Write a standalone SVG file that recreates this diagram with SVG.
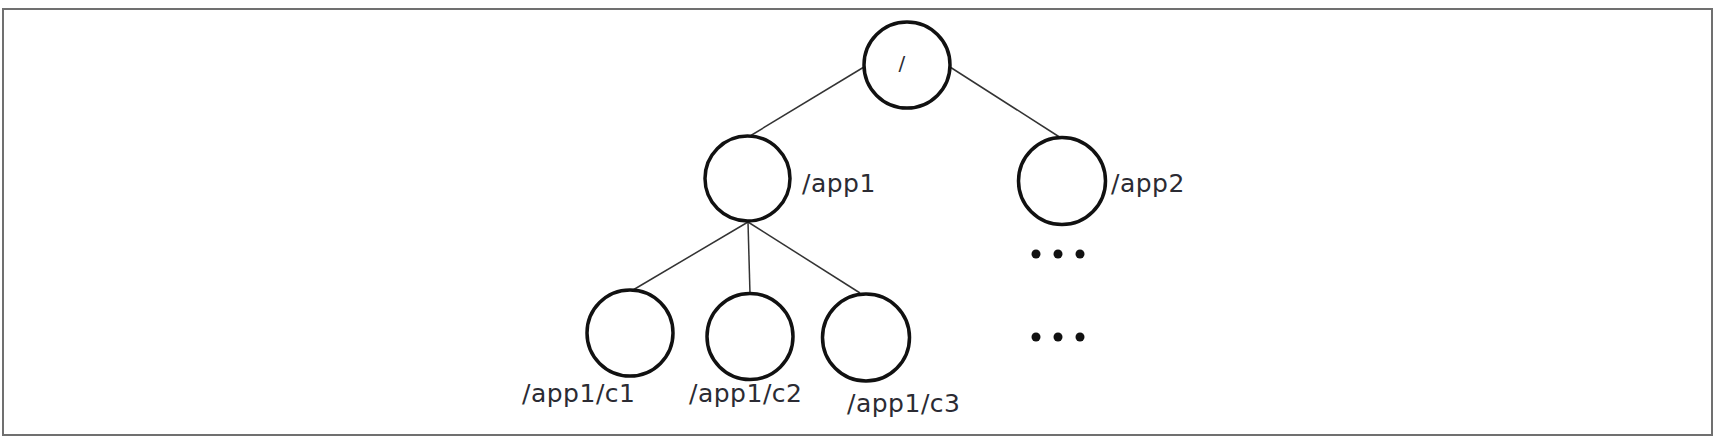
<svg xmlns="http://www.w3.org/2000/svg" width="1718" height="439" viewBox="0 0 1718 439">
<style>
.node{fill:#fff;stroke:#111;stroke-width:3.5}
.edge{stroke:#333;stroke-width:1.5;fill:none}
.lbl{font-family:"DejaVu Sans",Verdana,sans-serif;font-size:25px;fill:#2b2b33;letter-spacing:0.5px}
.dot{fill:#111}
</style>
<rect x="3" y="9" width="1709" height="426" fill="#fff" stroke="#707070" stroke-width="2"/>
<g id="connectors">
<line class="edge" x1="864" y1="67" x2="750" y2="136"/>
<line class="edge" x1="950" y1="67" x2="1061" y2="138"/>
<line class="edge" x1="748" y1="222" x2="633" y2="290"/>
<line class="edge" x1="748" y1="222" x2="750" y2="294"/>
<line class="edge" x1="748" y1="222" x2="860" y2="293"/>
</g>
<g id="root">
<circle class="node" cx="907" cy="65" r="43"/>
<text class="lbl" x="902" y="70" text-anchor="middle" style="font-size:20px">/</text>
</g>
<g id="app1">
<circle class="node" cx="747.5" cy="178.5" r="42.5"/>
<text class="lbl" x="802" y="192">/app1</text>
</g>
<g id="app2">
<circle class="node" cx="1062" cy="181" r="43.5"/>
<text class="lbl" x="1111" y="192">/app2</text>
</g>
<g id="c1">
<circle class="node" cx="630" cy="333" r="43"/>
<text class="lbl" x="522" y="402">/app1/c1</text>
</g>
<g id="c2">
<circle class="node" cx="750" cy="336.5" r="43"/>
<text class="lbl" x="689" y="402">/app1/c2</text>
</g>
<g id="c3">
<circle class="node" cx="866" cy="337.5" r="43.5"/>
<text class="lbl" x="847" y="412">/app1/c3</text>
</g>
<g id="ellipsis1">
<circle class="dot" cx="1036" cy="254" r="4.5"/>
<circle class="dot" cx="1058" cy="254" r="4.5"/>
<circle class="dot" cx="1080" cy="254" r="4.5"/>
</g>
<g id="ellipsis2">
<circle class="dot" cx="1036" cy="337" r="4.5"/>
<circle class="dot" cx="1058" cy="337" r="4.5"/>
<circle class="dot" cx="1080" cy="337" r="4.5"/>
</g>
</svg>
